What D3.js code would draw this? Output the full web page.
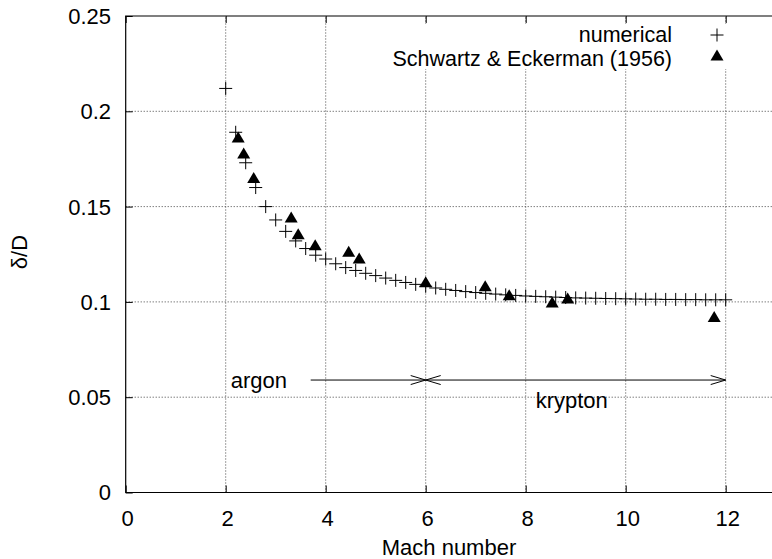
<!DOCTYPE html>
<html>
<head>
<meta charset="utf-8">
<script src="https://cdn.jsdelivr.net/npm/d3@7"></script>
<style>
  body { margin: 0; background: #fff; }
  text { font-family: "Liberation Sans", Arial, sans-serif; font-size: 22px; fill: #000; }
</style>
</head>
<body>
<div id="chart_container"></div>
<script>
// --- Data ---
const machNumerical = [2.0, 2.2, 2.4, 2.6, 2.8, 3.0, 3.2, 3.4, 3.6, 3.8, 4.0, 4.2, 4.4, 4.6, 4.8,
    5.0, 5.2, 5.4, 5.6, 5.8, 6.0, 6.2, 6.4, 6.6, 6.8, 7.0, 7.2, 7.4, 7.6, 7.8, 8.0, 8.2, 8.4,
    8.6, 8.8, 9.0, 9.2, 9.4, 9.6, 9.8, 10.0, 10.2, 10.4, 10.6, 10.8, 11.0, 11.2, 11.4, 11.6, 11.8, 12.0];
const deltaNumerical = [0.212, 0.189, 0.173, 0.160, 0.150, 0.143, 0.137, 0.132, 0.128, 0.1245, 0.1225,
    0.120, 0.118, 0.1165, 0.115, 0.1138, 0.1125, 0.1113, 0.1102, 0.1092, 0.1082, 0.1073, 0.1066,
    0.1060, 0.1054, 0.1049, 0.1045, 0.1041, 0.1037, 0.1034, 0.1031, 0.1029, 0.1027, 0.1025, 0.1023,
    0.1021, 0.1020, 0.1019, 0.1018, 0.1017, 0.1016, 0.1015, 0.1014, 0.1014, 0.1013, 0.1013, 0.1012,
    0.1012, 0.1011, 0.1011, 0.1011];

const machExp = [2.25, 2.36, 2.56, 3.31, 3.45, 3.79, 4.46, 4.67, 6.0, 7.19, 7.67, 8.53, 8.84, 11.77];
const deltaExp = [0.186, 0.1776, 0.1647, 0.144, 0.1352, 0.1295, 0.126, 0.1225, 0.110, 0.108, 0.1032,
    0.0994, 0.1015, 0.0918];

const xTicks = [0, 2, 4, 6, 8, 10, 12];
const yTicks = [0, 0.05, 0.1, 0.15, 0.2, 0.25];
const seriesNames = ['numerical', 'Schwartz & Eckerman (1956)'];

// argon / krypton ranges (Mach number)
const arrows = [
    { from: 3.7, to: 6, y: 0.059, startHead: false },
    { from: 6, to: 12, y: 0.059, startHead: true }
];
const labels = [
    { text: 'argon', x: 2.1, y: 0.059 },
    { text: 'krypton', x: 8.2, y: 0.0486 }
];

const width = 772, height = 559;
const margin = { left: 125.7, top: 16, bottom: 492.5 };

const x = d3.scaleLinear().domain([0, 13]).range([margin.left, margin.left + 650]);
const y = d3.scaleLinear().domain([0, 0.25]).range([margin.bottom, margin.top]);

const svg = d3.select('#chart_container').append('svg')
    .attr('width', width)
    .attr('height', height);

// grid (dotted)
const gGrid = svg.append('g').attr('stroke', '#444').attr('stroke-dasharray', '1,2').attr('stroke-width', 1);
gGrid.selectAll('line.gx').data(xTicks.filter(d => d > 0)).enter().append('line')
    .attr('x1', d => x(d)).attr('x2', d => x(d))
    .attr('y1', y(0)).attr('y2', y(0.25));
gGrid.selectAll('line.gy').data(yTicks.filter(d => d > 0 && d < 0.25)).enter().append('line')
    .attr('x1', x(0)).attr('x2', width)
    .attr('y1', d => y(d)).attr('y2', d => y(d));

// opaque key area
svg.append('rect').attr('x', 370).attr('y', 24).attr('width', width - 370).attr('height', 45).attr('fill', '#fff');

// axes (ticks inward)
const xAxisBottom = d3.axisTop(x).tickValues(xTicks).tickSize(7).tickFormat('');
const xAxisTop = d3.axisBottom(x).tickValues(xTicks).tickSize(7).tickFormat('');
const yAxis = d3.axisRight(y).tickValues(yTicks).tickSize(7).tickFormat('');

svg.append('g').attr('transform', `translate(0,${y(0)})`).call(xAxisBottom);
svg.append('g').attr('transform', `translate(0,${y(0.25)})`).call(xAxisTop);
svg.append('g').attr('transform', `translate(${x(0)},0)`).call(yAxis);
svg.selectAll('.domain').remove();
svg.selectAll('.tick line').attr('stroke', '#000');

// border (no right side, it is cut off)
svg.append('path')
    .attr('d', `M${width},${y(0.25)}H${x(0)}V${y(0)}H${width}`)
    .attr('fill', 'none').attr('stroke', '#000').attr('stroke-width', 1.2);

// tick labels
svg.append('g').selectAll('text').data(xTicks).enter().append('text')
    .attr('x', d => x(d) + 2).attr('y', 526)
    .attr('text-anchor', 'middle')
    .text(d => d);
svg.append('g').selectAll('text').data(yTicks).enter().append('text')
    .attr('x', 111).attr('y', d => y(d)).attr('dy', '0.36em')
    .attr('text-anchor', 'end')
    .text(d => d3.format('~g')(d));

// axis titles
svg.append('text').attr('x', 449).attr('y', 555).attr('text-anchor', 'middle').text('Mach number');
svg.append('text').attr('transform', 'translate(27,252) rotate(-90)').attr('text-anchor', 'middle').text('δ/D');

// markers
const plusPath = 'M-6.5,0H6.5M0,-6.5V6.5';
const triPath = 'M0,-6.5L6.5,4.5L-6.5,4.5Z';

svg.append('g').selectAll('path').data(machNumerical).enter().append('path')
    .attr('transform', (d, i) => `translate(${x(d)},${y(deltaNumerical[i])})`)
    .attr('d', plusPath).attr('stroke', '#000').attr('stroke-width', 1).attr('fill', 'none');

svg.append('g').selectAll('path').data(machExp).enter().append('path')
    .attr('transform', (d, i) => `translate(${x(d)},${y(deltaExp[i])})`)
    .attr('d', triPath).attr('fill', '#000');

// arrows with open heads
function head(xTip, yTip, dir) {
    const len = 15, half = 4.5;
    return `M${xTip - dir * len},${yTip - half}L${xTip},${yTip}L${xTip - dir * len},${yTip + half}`;
}
const gArrows = svg.append('g').attr('stroke', '#000').attr('fill', 'none').attr('stroke-width', 1);
arrows.forEach(a => {
    const y0 = y(a.y);
    gArrows.append('line').attr('x1', x(a.from)).attr('x2', x(a.to)).attr('y1', y0).attr('y2', y0);
    gArrows.append('path').attr('d', head(x(a.to), y0, 1));
    if (a.startHead) gArrows.append('path').attr('d', head(x(a.from), y0, -1));
});

svg.append('g').selectAll('text').data(labels).enter().append('text')
    .attr('x', d => x(d.x)).attr('y', d => y(d.y)).attr('dy', '0.36em')
    .text(d => d.text);

// key
const key = svg.append('g');
key.selectAll('text').data(seriesNames).enter().append('text')
    .attr('x', 672).attr('y', (d, i) => 34 + i * 24).attr('dy', '0.36em')
    .attr('text-anchor', 'end')
    .style('font-size', '21.5px')
    .text(d => d);
key.append('path').attr('transform', 'translate(717,35)').attr('d', plusPath)
    .attr('stroke', '#000').attr('fill', 'none');
key.append('path').attr('transform', 'translate(717,56)').attr('d', triPath).attr('fill', '#000');
</script>
</body>
</html>
